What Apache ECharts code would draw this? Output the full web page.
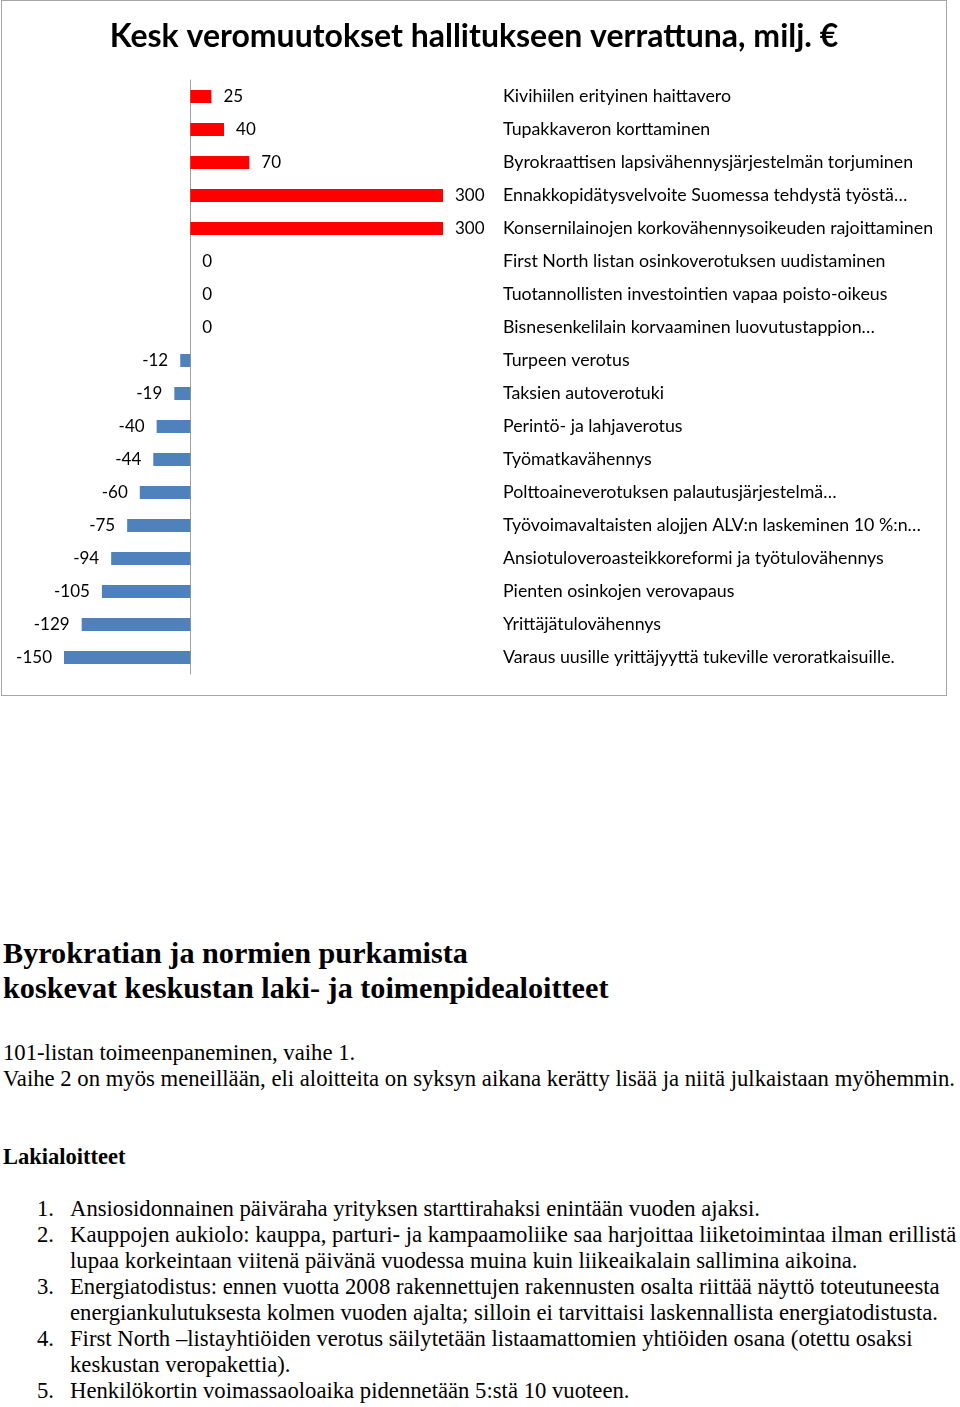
<!DOCTYPE html>
<html>
<head>
<meta charset="utf-8">
<script src="https://cdn.jsdelivr.net/npm/echarts@6/dist/echarts.min.js"></script>
<style>
  html, body { margin: 0; padding: 0; background: #fff; }
  #page { position: relative; width: 960px; height: 1407px; overflow: hidden; }
  #chart { position: absolute; left: 0; top: 0; width: 960px; height: 700px; }
  #frame { position: absolute; left: 1px; top: 0; width: 944px; height: 694px; border: 1px solid #a6a6a6; pointer-events: none; }
  .t { position: absolute; left: 3px; font-family: "Liberation Serif", serif; color: #000; white-space: nowrap; }
  .h1 { font-size: 30.2px; font-weight: bold; }
  .p { font-size: 22.7px; }
  .h2 { font-size: 22.5px; font-weight: bold; }
  .num { position: absolute; left: 37px; font-family: "Liberation Serif", serif; font-size: 22.7px; }
  .li { position: absolute; left: 70px; font-family: "Liberation Serif", serif; font-size: 22.7px; white-space: nowrap; }
</style>
</head>
<body>
<div id="page">
  <div id="chart"></div>
  <div id="frame"></div>

  <div class="t h1" style="top:936px">Byrokratian ja normien purkamista</div>
  <div class="t h1" style="top:971px">koskevat keskustan laki- ja toimenpidealoitteet</div>

  <div class="t p" style="top:1040px">101-listan toimeenpaneminen, vaihe 1.</div>
  <div class="t p" style="top:1066px">Vaihe 2 on myös meneillään, eli aloitteita on syksyn aikana kerätty lisää ja niitä julkaistaan myöhemmin.</div>

  <div class="t h2" style="top:1144px">Lakialoitteet</div>

  <div class="num" style="top:1196px">1.</div>
  <div class="li" style="top:1196px">Ansiosidonnainen päiväraha yrityksen starttirahaksi enintään vuoden ajaksi.</div>
  <div class="num" style="top:1222px">2.</div>
  <div class="li" style="top:1222px">Kauppojen aukiolo: kauppa, parturi- ja kampaamoliike saa harjoittaa liiketoimintaa ilman erillistä</div>
  <div class="li" style="top:1248px">lupaa korkeintaan viitenä päivänä vuodessa muina kuin liikeaikalain sallimina aikoina.</div>
  <div class="num" style="top:1274px">3.</div>
  <div class="li" style="top:1274px">Energiatodistus: ennen vuotta 2008 rakennettujen rakennusten osalta riittää näyttö toteutuneesta</div>
  <div class="li" style="top:1300px">energiankulutuksesta kolmen vuoden ajalta; silloin ei tarvittaisi laskennallista energiatodistusta.</div>
  <div class="num" style="top:1326px">4.</div>
  <div class="li" style="top:1326px">First North –listayhtiöiden verotus säilytetään listaamattomien yhtiöiden osana (otettu osaksi</div>
  <div class="li" style="top:1352px">keskustan veropakettia).</div>
  <div class="num" style="top:1378px">5.</div>
  <div class="li" style="top:1378px">Henkilökortin voimassaoloaika pidennetään 5:stä 10 vuoteen.</div>
</div>
<script>
var categories = [
  'Kivihiilen erityinen haittavero',
  'Tupakkaveron korttaminen',
  'Byrokraattisen lapsivähennysjärjestelmän torjuminen',
  'Ennakkopidätysvelvoite Suomessa tehdystä työstä…',
  'Konsernilainojen korkovähennysoikeuden rajoittaminen',
  'First North listan osinkoverotuksen uudistaminen',
  'Tuotannollisten investointien vapaa poisto-oikeus',
  'Bisnesenkelilain korvaaminen luovutustappion…',
  'Turpeen verotus',
  'Taksien autoverotuki',
  'Perintö- ja lahjaverotus',
  'Työmatkavähennys',
  'Polttoaineverotuksen palautusjärjestelmä…',
  'Työvoimavaltaisten alojjen ALV:n laskeminen 10 %:n…',
  'Ansiotuloveroasteikkoreformi ja työtulovähennys',
  'Pienten osinkojen verovapaus',
  'Yrittäjätulovähennys',
  'Varaus uusille yrittäjyyttä tukeville veroratkaisuille.'
];
var values = [25, 40, 70, 300, 300, 0, 0, 0, -12, -19, -40, -44, -60, -75, -94, -105, -129, -150];

var chart = echarts.init(document.getElementById('chart'));
var font = 'Lato, "Noto Sans", sans-serif';

// colour and label side depend on the sign
var barData = values.map(function (v) {
  return {
    value: v,
    itemStyle: { color: v < 0 ? '#4f81bd' : '#ff0000' },
    label: { position: v < 0 ? 'left' : 'right' }
  };
});

chart.setOption({
  animation: false,
  title: {
    text: 'Kesk veromuutokset hallitukseen verrattuna, milj. €',
    left: 469,
    top: 16,
    textAlign: 'center',
    textStyle: { fontFamily: font, fontSize: 32, fontWeight: 'bold', color: '#000' }
  },
  grid: { left: 64, right: 517, top: 80, bottom: 26 },
  xAxis: {
    type: 'value',
    min: -150,
    max: 300,
    show: false
  },
  yAxis: [{
    type: 'category',
    data: categories,
    inverse: true,
    axisLine: { onZero: true, lineStyle: { color: '#a0a0a0', width: 1 } },
    axisTick: { show: false },
    axisLabel: { show: false },
    splitLine: { show: false }
  }, {
    type: 'category',
    data: categories,
    inverse: true,
    position: 'right',
    axisLine: { show: false },
    axisTick: { show: false },
    axisLabel: { margin: 60, align: 'left', fontFamily: font, fontSize: 17.8, color: '#000' }
  }],
  series: [{
    type: 'bar',
    yAxisIndex: 0,
    data: barData,
    barWidth: 13,
    label: {
      show: true,
      distance: 12,
      fontFamily: font,
      fontSize: 17,
      color: '#000'
    }
  }]
});
</script>
</body>
</html>
